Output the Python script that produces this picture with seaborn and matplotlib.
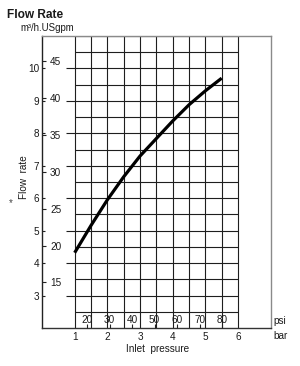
import numpy as np
import pandas as pd
import matplotlib
matplotlib.use("Agg")
import matplotlib.pyplot as plt
import seaborn as sns

# ---- data ----
pressure_bar = [1.0, 1.5, 2.0, 2.5, 3.0, 3.5, 4.0, 4.5, 5.0, 5.5]
flow_m3h = [4.32, 5.16, 5.95, 6.66, 7.30, 7.84, 8.38, 8.88, 9.31, 9.70]
bar_ticks = [1, 2, 3, 4, 5, 6]
m3h_ticks = [3, 4, 5, 6, 7, 8, 9, 10]
gpm_ticks = [15, 20, 25, 30, 35, 40, 45]
psi_ticks = [20, 30, 40, 50, 60, 70, 80]

GPM_PER_M3H = 4.40287
PSI_PER_BAR = 14.5038

sns.set_style("white")
plt.rcParams['font.family'] = ['Liberation Sans', 'DejaVu Sans']

W, H = 300, 366
fig = plt.figure(figsize=(W / 100, H / 100), dpi=100)
ax = fig.add_axes([42 / W, 1 - 328 / H, (270.7 - 42) / W, (328 - 36) / H])
ax.set_xlim(0, 7)
ax.set_ylim(2, 11)

TXT = '#1a1a1a'
grid_c = '#1e1e1e'
# grid
xs = np.arange(1, 6.01, 0.5)
ax.vlines(xs, 2, 11, color=grid_c, lw=0.8, zorder=1)
ys = np.arange(2.5, 11.01, 0.5)
ax.hlines(ys, 1, 6, color=grid_c, lw=0.8, zorder=1)
ax.hlines(m3h_ticks, 0.72, 1, color=grid_c, lw=0.8, zorder=1)

df = pd.DataFrame({'bar': pressure_bar, 'flow': flow_m3h})
sns.lineplot(data=df, x='bar', y='flow', ax=ax, color='black', linewidth=2.3,
             zorder=3, solid_joinstyle='round', solid_capstyle='butt')
ax.set_xlabel('')
ax.set_ylabel('')

# spines
for s, c in [('left', '#222222'), ('bottom', '#333333'), ('top', '#8a8a8a'), ('right', '#8a8a8a')]:
    ax.spines[s].set_visible(True)
    ax.spines[s].set_color(c)
    ax.spines[s].set_linewidth(1.0)

# bar ticks
ax.set_xticks(bar_ticks)
ax.set_xticklabels([str(b) for b in bar_ticks])
ax.tick_params(axis='x', bottom=True, length=0, pad=3.0, labelsize=7.2, labelcolor=TXT)
# m3/h ticks
ax.set_yticks(m3h_ticks)
ax.set_yticklabels([str(v) for v in m3h_ticks])
ax.tick_params(axis='y', left=True, direction='in', length=2.5, width=0.8,
               pad=2.0, labelsize=7.2, labelcolor=TXT, color='#222222')

# USgpm ticks on the left axis, labels inside
ax2 = ax.twinx()
ax2.set_ylim(2 * GPM_PER_M3H, 11 * GPM_PER_M3H)
ax2.yaxis.tick_left()
ax2.set_yticks(gpm_ticks)
ax2.set_yticklabels([str(v) for v in gpm_ticks])
ax2.tick_params(axis='y', left=True, labelleft=True, right=False, labelright=False,
                direction='in', length=3.2, width=0.8, pad=-5.8, labelsize=7.2,
                labelcolor=TXT, color='#222222')
for t in ax2.yaxis.get_major_ticks():
    t.label1.set_horizontalalignment('left')
for s in ax2.spines.values():
    s.set_visible(False)

# psi ticks inside the bottom strip
ax3 = ax.twiny()
ax3.set_xlim(0, 7 * PSI_PER_BAR)
ax3.xaxis.tick_bottom()
ax3.set_xticks(psi_ticks)
ax3.set_xticklabels([str(v) for v in psi_ticks])
ax3.tick_params(axis='x', bottom=True, labelbottom=True, top=False, labeltop=False,
                direction='in', length=3.0, width=0.8, pad=-3.4, labelsize=7.2,
                labelcolor=TXT, color='#222222')
for t in ax3.xaxis.get_major_ticks():
    t.label1.set_verticalalignment('baseline')
for s in ax3.spines.values():
    s.set_visible(False)

# texts
fig.text(7 / W, 1 - 17.5 / H, 'Flow Rate', weight='bold', fontsize=8.6, va='baseline', color=TXT)
fig.text(20.5 / W, 1 - 31 / H, 'm³/h.USgpm', fontsize=6.9, va='baseline', color=TXT)
fig.text(24 / W, 1 - 177 / H, 'Flow  rate', rotation=90, ha='center', va='center', fontsize=7.2, color=TXT)
fig.text(158 / W, 1 - 349 / H, 'Inlet  pressure', ha='center', va='center', fontsize=7.2, color=TXT)
fig.text(11 / W, 1 - 203 / H, '*', ha='center', va='center', fontsize=7, color='#444444')
fig.text(273 / W, 1 - 324 / H, 'psi', va='baseline', fontsize=7.2, color=TXT)
fig.text(273 / W, 1 - 339 / H, 'bar', va='baseline', fontsize=7.2, color=TXT)

fig.savefig('out.png', dpi=100)
